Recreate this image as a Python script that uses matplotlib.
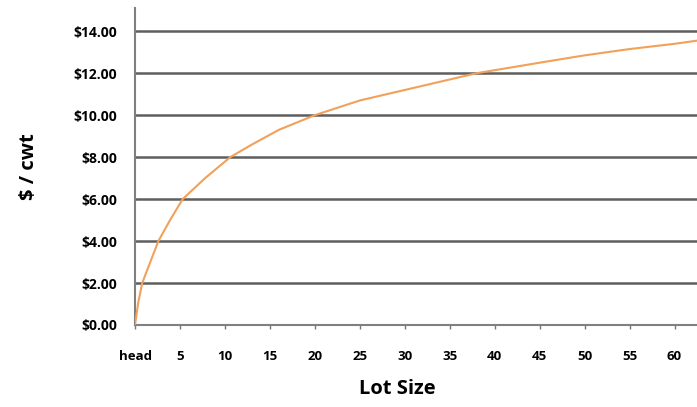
import matplotlib
matplotlib.use("Agg")
import matplotlib.pyplot as plt

# 读图得到的曲线数据（Lot Size -> $/cwt）
lot_size = [0, 0.35, 0.8, 1.7, 2.6, 3.9, 5.3, 7.8, 10.6, 13, 16, 20, 25, 30, 35, 38, 45, 50, 55, 60, 62.5]
price = [0, 1.05, 2.0, 3.0, 4.0, 5.0, 6.0, 7.0, 8.0, 8.6, 9.3, 10.0, 10.7, 11.2, 11.7, 12.0, 12.5, 12.85, 13.15, 13.4, 13.55]

x_ticks = [0, 5, 10, 15, 20, 25, 30, 35, 40, 45, 50, 55, 60]
x_tick_labels = ["head", "5", "10", "15", "20", "25", "30", "35", "40", "45", "50", "55", "60"]
y_ticks = [0, 2, 4, 6, 8, 10, 12, 14]

plt.rcParams["font.family"] = ["Open Sans", "DejaVu Sans"]

fig = plt.figure(figsize=(6.97, 4.07), dpi=100)
ax = fig.add_axes([0.1937, 0.2015, 0.8063, 0.7785])

# 横向网格线
for y in y_ticks[1:]:
    ax.axhline(y, color="#5e5e5e", linewidth=1.8, zorder=1)

ax.plot(lot_size, price, color="#f2a05a", linewidth=1.5, zorder=3)

ax.set_xlim(0, 62.5)
ax.set_ylim(0, 15.1)

ax.set_xticks(x_ticks)
ax.set_xticklabels(x_tick_labels, fontsize=9.5, fontweight="bold")
ax.set_yticks(y_ticks)
ax.set_yticklabels([f"${v:.2f}" for v in y_ticks], fontsize=10, fontweight="bold")

ax.tick_params(axis="x", length=3, width=1, color="#777777", pad=15, direction="out")
ax.tick_params(axis="y", length=0, pad=13)

for side in ["top", "right"]:
    ax.spines[side].set_visible(False)
ax.spines["left"].set_color("#808080")
ax.spines["left"].set_linewidth(1.5)
ax.spines["bottom"].set_color("#808080")
ax.spines["bottom"].set_linewidth(1.5)

ax.set_xlabel("Lot Size", fontsize=14.5, fontweight="bold")
ax.xaxis.set_label_coords((397 - 135) / 562, -0.17)
ax.set_ylabel("$ / cwt", fontsize=14.5, fontweight="bold")
ax.yaxis.set_label_coords(-0.17, 0.5)

fig.savefig("out.png", dpi=100)
